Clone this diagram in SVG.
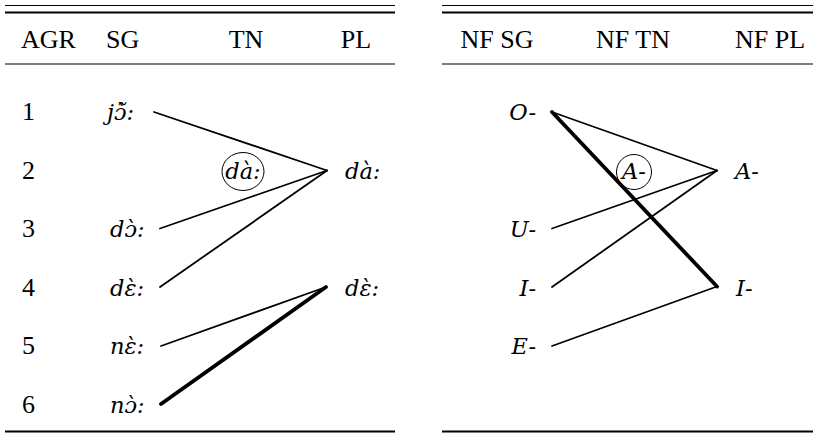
<svg xmlns="http://www.w3.org/2000/svg" width="818" height="435" viewBox="0 0 818 435">
<style>
text{font-family:"Liberation Serif","Times New Roman",serif;font-size:26px;fill:#000}
.it{font-family:"DejaVu Serif","Liberation Serif",serif;font-style:italic;font-size:22.5px}
.m{text-anchor:middle}
.e{text-anchor:end}
.rule{stroke:#000}
.ln{stroke:#000;stroke-width:1.8;fill:none;stroke-linecap:round}
.thick{stroke-width:3.8}
.circ{fill:none;stroke:#000;stroke-width:1}
</style>
<rect width="818" height="435" fill="#fff"/>
<g id="left-table">
<line class="rule" x1="5" y1="5.5" x2="395" y2="5.5" stroke-width="1.2"/>
<line class="rule" x1="5" y1="12.5" x2="395" y2="12.5" stroke-width="2"/>
<line class="rule" x1="5" y1="64" x2="395" y2="64" stroke-width="1.2"/>
<line class="rule" x1="5" y1="431.5" x2="395" y2="431.5" stroke-width="2"/>
<text x="21" y="48">AGR</text>
<text x="106" y="48">SG</text>
<text class="m" x="246" y="48">TN</text>
<text class="m" x="356" y="48">PL</text>
<text x="22" y="120">1</text>
<text x="22" y="179">2</text>
<text x="22" y="237">3</text>
<text x="22" y="296">4</text>
<text x="22" y="354">5</text>
<text x="22" y="413">6</text>
</g>
<g id="right-table">
<line class="rule" x1="442" y1="5.5" x2="813" y2="5.5" stroke-width="1.2"/>
<line class="rule" x1="442" y1="12.5" x2="813" y2="12.5" stroke-width="2"/>
<line class="rule" x1="442" y1="64" x2="813" y2="64" stroke-width="1.2"/>
<line class="rule" x1="442" y1="431.5" x2="813" y2="431.5" stroke-width="2"/>
<text class="m" x="497" y="48">NF SG</text>
<text class="m" x="633" y="48">NF TN</text>
<text class="m" x="770" y="48">NF PL</text>
</g>
<g id="connectors">
<line class="ln" x1="154" y1="112" x2="327" y2="170.5"/>
<line class="ln" x1="160" y1="228.5" x2="327" y2="170.5"/>
<line class="ln" x1="160" y1="287" x2="327" y2="170.5"/>
<line class="ln" x1="161" y1="346" x2="326" y2="287"/>
<line class="ln thick" x1="161" y1="404" x2="326" y2="287"/>
<line class="ln" x1="552" y1="112" x2="717" y2="170.5"/>
<line class="ln thick" x1="552" y1="112" x2="717" y2="286.5"/>
<line class="ln" x1="552" y1="228.5" x2="717" y2="170.5"/>
<line class="ln" x1="552" y1="287" x2="717" y2="170.5"/>
<line class="ln" x1="552" y1="346" x2="717" y2="286.5"/>
</g>
<g id="sg-1"><text class="it" x="107" y="120">jɔ̃̀:</text></g>
<g id="sg-3"><text class="it" x="110" y="237">dɔ̀:</text></g>
<g id="sg-4"><text class="it" x="110" y="296">dɛ̀:</text></g>
<g id="sg-5"><text class="it" x="110" y="354">nɛ̀:</text></g>
<g id="sg-6"><text class="it" x="110" y="413">nɔ̀:</text></g>
<g id="tn-da"><ellipse class="circ" cx="243" cy="171.5" rx="21" ry="19"/><text class="it m" x="243" y="179">dà:</text></g>
<g id="pl-da"><text class="it" x="345" y="179">dà:</text></g>
<g id="pl-de"><text class="it" x="345" y="296">dɛ̀:</text></g>
<g id="nf-o"><text class="it e" x="536" y="120">O-</text></g>
<g id="nf-u"><text class="it e" x="536" y="237">U-</text></g>
<g id="nf-i"><text class="it e" x="536" y="296">I-</text></g>
<g id="nf-e"><text class="it e" x="536" y="354">E-</text></g>
<g id="nftn-a"><circle class="circ" cx="634" cy="172" r="17.5"/><text class="it m" x="634" y="179">A-</text></g>
<g id="nfpl-a"><text class="it" x="735" y="179">A-</text></g>
<g id="nfpl-i"><text class="it" x="736" y="296">I-</text></g>
</svg>
